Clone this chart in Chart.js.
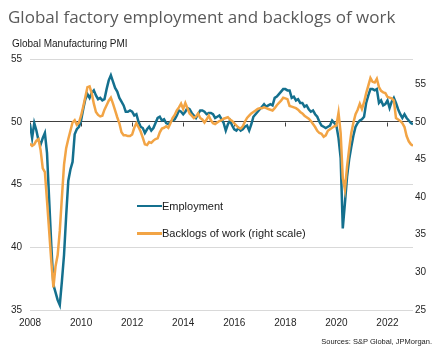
<!DOCTYPE html>
<html>
<head>
<meta charset="utf-8">
<script src="https://cdn.jsdelivr.net/npm/chart.js@4.4.1/dist/chart.umd.min.js"></script>
<style>
  html, body { margin: 0; padding: 0; background: #ffffff; }
  #wrap { position: relative; width: 440px; height: 354px; overflow: hidden; background: #ffffff; }
  #c { position: absolute; left: 0; top: 0; }
  .txt { position: absolute; white-space: nowrap; }
  #title { left: 8px; top: 8px; font: 17px/17px "Open Sans", "Liberation Sans", sans-serif; color: #595959; }
  #sub { left: 12px; top: 38.5px; font: 10px/10px "Liberation Sans", Arial, sans-serif; color: #1a1a1a; }
  #src { right: 8px; top: 337.5px; font: 7.5px/7.5px "Liberation Sans", Arial, sans-serif; color: #1a1a1a; }
  .leg { font: 11px/11px "Liberation Sans", Arial, sans-serif; color: #1a1a1a; }
  .sw { position: absolute; width: 25px; height: 2.5px; }
</style>
</head>
<body>
<div id="wrap">
  <canvas id="c" width="440" height="354"></canvas>
  <div class="txt" id="title">Global factory employment and backlogs of work</div>
  <div class="txt" id="sub">Global Manufacturing PMI</div>
  <div class="txt" id="src">Sources: S&amp;P Global, JPMorgan.</div>
  <div class="sw" id="sw1"></div>
  <div class="txt leg" id="lg1" style="left:162px; top:200.8px;">Employment</div>
  <div class="sw" id="sw2"></div>
  <div class="txt leg" id="lg2" style="left:162px; top:228.4px;">Backlogs of work (right scale)</div>
</div>
<script>
// ---- data: monthly, Jan 2008 .. Jan 2023 ----
const startYear = 2008;
const tickYears = [2008, 2010, 2012, 2014, 2016, 2018, 2020, 2022];
const leftTicks = [35, 40, 45, 50, 55];
const rightTicks = [25, 30, 35, 40, 45, 50, 55];
const seriesNames = ["Employment", "Backlogs of work (right scale)"];

// Employment (left scale)
const employment = [
  49.8, 48.7, 49.9, 49.3, 48.5, 48.2, 48.7, 49.1, 47.5, 43.8, 40.2, 37.0,
  36.4, 35.8, 35.4, 37.3, 39.4, 42.5, 45.3, 46.2, 46.8, 49.0, 49.4, 49.6,
  50.1, 51.0, 51.8, 52.2, 51.9, 52.3, 52.5, 52.1, 51.8, 51.9, 51.7, 51.8,
  52.6, 53.3, 53.7, 53.2, 52.7, 52.4, 51.9, 51.6, 51.3, 50.8, 50.8, 50.9,
  50.8, 50.5, 50.6, 50.0, 49.6, 49.5, 49.1, 49.4, 49.6, 49.3, 49.5, 49.9,
  50.3, 50.4, 50.1, 50.2, 49.9, 49.8, 50.0, 50.1, 50.2, 50.5, 50.9, 50.8,
  50.6, 50.8, 51.1, 51.0, 50.7, 50.5, 50.3, 50.6, 50.9, 50.9, 50.8, 50.6,
  50.7, 50.7, 50.6, 50.3, 50.4, 50.5, 50.2, 49.9, 49.3, 49.8, 50.1, 49.7,
  49.4, 49.3, 49.5, 49.3, 49.4, 49.6, 49.7, 49.3, 49.8, 50.4, 50.6, 50.8,
  51.0, 51.2, 51.4, 51.2, 51.3, 51.4, 51.3, 51.9, 52.0, 52.2, 52.4, 52.6,
  52.6, 52.5, 52.5, 51.9, 52.0, 51.7, 51.8, 51.5, 51.5, 51.2, 51.3, 51.0,
  50.8, 50.9, 50.6, 50.4, 50.0, 49.7, 49.6, 49.5, 49.6, 49.7, 50.1, 49.9,
  49.7, 48.7, 47.1, 41.5, 43.5, 45.6, 47.0, 48.0, 48.9, 49.6, 49.9, 50.1,
  50.2, 50.4, 51.5, 52.1, 52.6, 52.6, 52.5, 52.6, 51.5, 51.7, 51.3, 51.4,
  51.7, 51.1, 51.6, 51.9, 51.5, 51.0, 50.6, 50.3, 50.6, 50.3, 50.1, 49.9,
  49.8
];

// Backlogs of work (right scale)
const backlogs = [
  47.1, 46.8, 47.0, 47.5, 47.7, 46.2, 43.8, 43.3, 39.5, 35.5, 31.5, 28.0,
  30.8, 32.3, 35.5, 40.0, 44.3, 46.5, 47.7, 48.8, 49.9, 50.2, 49.6, 49.9,
  50.8, 52.0, 53.3, 54.6, 54.7, 53.8, 52.4, 51.3, 50.9, 50.7, 50.8, 51.6,
  52.2, 52.8, 53.2, 52.4, 51.5, 50.6, 49.8, 48.6, 48.2, 48.2, 48.1, 48.1,
  48.3, 49.2, 49.8, 49.3, 48.7, 47.9, 47.0, 46.9, 47.3, 47.2, 47.5, 47.7,
  47.8, 48.6, 49.1, 49.2, 49.4, 49.2, 49.8, 50.5, 50.9, 51.5, 51.9, 52.4,
  51.7, 52.5, 51.8, 51.1, 50.8, 50.5, 50.7, 51.1, 50.5, 50.3, 49.9, 50.3,
  50.8, 50.2, 49.8, 49.7, 49.9, 50.1, 50.2, 50.4, 50.5, 50.6, 50.3, 50.1,
  49.8, 49.5, 49.2, 49.1, 49.4, 50.0, 50.5, 50.8, 51.1, 51.3, 51.5, 51.7,
  51.8, 51.8, 51.9, 51.8, 51.7, 51.6, 51.5, 51.8, 52.2, 52.5, 52.8, 53.2,
  53.1, 53.0, 52.1, 52.0, 51.9, 51.8, 51.6, 51.3, 51.1, 50.8, 50.6, 50.4,
  50.1, 49.7, 49.3, 48.8, 48.5, 48.4, 48.0, 48.2, 48.8, 49.0, 49.2, 49.4,
  49.5, 51.2, 48.5, 42.5, 41.0, 44.0, 46.4, 48.5, 49.9, 51.0, 51.6, 52.4,
  51.7, 52.6, 53.8, 54.8, 55.8, 55.3, 55.2, 55.7, 54.6, 54.1, 53.9, 53.8,
  53.3, 53.2, 53.1, 52.8, 50.5, 50.3, 50.1, 49.8, 49.3, 48.1, 47.4, 47.0,
  46.8
];

// ---- styling ----
const teal = '#14708e';
const orange = '#f2a445';
document.getElementById('sw1').style.cssText += 'left:137px;top:204.8px;background:' + teal + ';';
document.getElementById('sw2').style.cssText += 'left:137px;top:232px;background:' + orange + ';';

const toXY = arr => arr.map((v, i) => ({ x: i, y: v }));
const monthsOf = y => (y - startYear) * 12;

const fiftyTicks = {
  id: 'fiftyTicks',
  beforeDatasetsDraw(chart) {
    const xs = chart.scales.x, ys = chart.scales.y;
    const y50 = Math.round(ys.getPixelForValue(50)) + 0.5;
    const ctx = chart.ctx;
    ctx.save();
    ctx.strokeStyle = '#404040';
    ctx.lineWidth = 1;
    ctx.beginPath();
    tickYears.forEach(yr => {
      const px = Math.round(xs.getPixelForValue(monthsOf(yr))) + 0.5;
      ctx.moveTo(px, y50);
      ctx.lineTo(px, y50 + 4);
    });
    ctx.stroke();
    ctx.restore();
  }
};

new Chart(document.getElementById('c'), {
  type: 'line',
  data: {
    datasets: [
      {
        label: seriesNames[1],
        data: toXY(backlogs),
        yAxisID: 'y1',
        borderColor: orange,
        borderWidth: 2.5,
        pointRadius: 0,
        tension: 0,
        order: 0
      },
      {
        label: seriesNames[0],
        data: toXY(employment),
        yAxisID: 'y',
        borderColor: teal,
        borderWidth: 2.5,
        pointRadius: 0,
        tension: 0,
        order: 1
      }
    ]
  },
  options: {
    responsive: false,
    devicePixelRatio: 1,
    animation: false,
    layout: { padding: { top: 59, left: 0, right: 0, bottom: 0 } },
    plugins: { legend: { display: false }, tooltip: { enabled: false } },
    scales: {
      x: {
        type: 'linear',
        min: 0,
        max: employment.length - 1,
        afterBuildTicks: s => { s.ticks = tickYears.map(y => ({ value: monthsOf(y) })); },
        afterFit: s => { s.height = 44; },
        grid: { display: false, drawTicks: false },
        border: { display: false },
        ticks: {
          callback: v => String(startYear + Math.round(v / 12)),
          font: { family: '"Liberation Sans", Arial, sans-serif', size: 10 },
          color: '#262626',
          padding: 7,
          maxRotation: 0,
          autoSkip: false
        }
      },
      y: {
        position: 'left',
        min: 35,
        max: 55,
        afterBuildTicks: s => { s.ticks = leftTicks.map(v => ({ value: v })); },
        afterFit: s => { s.width = 30; },
        grid: {
          drawTicks: false,
          color: c => (c.tick && c.tick.value === 50) ? '#404040' : '#d9d9d9',
          lineWidth: 1
        },
        border: { display: false },
        ticks: {
          font: { family: '"Liberation Sans", Arial, sans-serif', size: 10 },
          color: '#262626',
          padding: 8
        }
      },
      y1: {
        position: 'right',
        min: 25,
        max: 50 + (55 - 50) * 5 / 3,
        afterBuildTicks: s => { s.ticks = rightTicks.map(v => ({ value: v })); },
        afterFit: s => { s.width = 27; },
        grid: { display: false, drawTicks: false },
        border: { display: false },
        ticks: {
          font: { family: '"Liberation Sans", Arial, sans-serif', size: 10 },
          color: '#262626',
          padding: 2
        }
      }
    }
  },
  plugins: [fiftyTicks]
});
</script>
</body>
</html>
